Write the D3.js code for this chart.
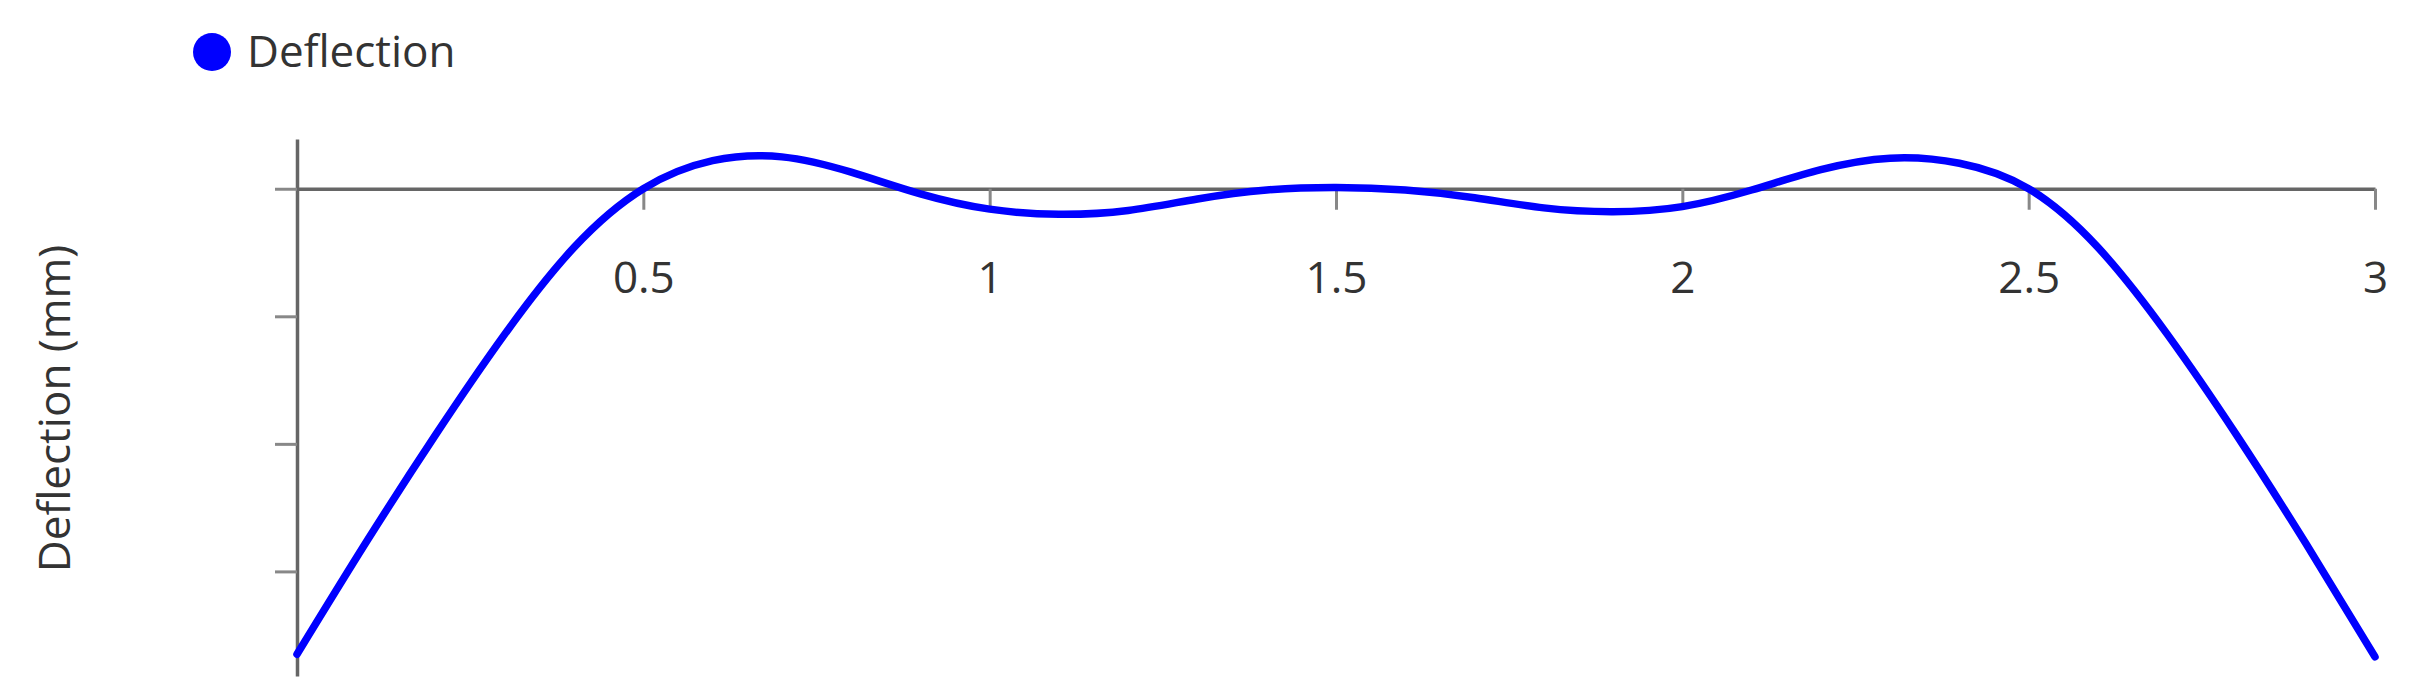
<!DOCTYPE html>
<html>
<head>
<meta charset="utf-8">
<script src="https://cdn.jsdelivr.net/npm/d3@7"></script>
<style>
  body { margin: 0; background: #fff; }
  svg { display: block; font-family: "Open Sans", sans-serif; }
  .axis .domain { stroke: #666; stroke-width: 3.5px; }
  .axis .tick line { stroke: #888; stroke-width: 3px; }
  .axis .tick text { fill: #333; font-size: 44px; font-family: "Open Sans", sans-serif; }
</style>
</head>
<body>
<script>
let width = 2418;
let height = 694;

// position along the beam (m)
let positions = [
  0, 0.1, 0.2, 0.3, 0.4, 0.5, 0.6, 0.7, 0.8, 0.9,
  1, 1.1, 1.2, 1.3, 1.4, 1.5, 1.6, 1.7, 1.8, 1.9,
  2, 2.1, 2.2, 2.3, 2.4, 2.5, 2.6, 2.7, 2.8, 2.9, 3
];

// deflection (mm)
let deflections = [
  -3.65, -2.77, -1.93, -1.14, -0.46, 0, 0.22, 0.25, 0.13, -0.04,
  -0.16, -0.20, -0.17, -0.08, -0.01, 0.01, -0.01, -0.07, -0.15, -0.18,
  -0.14, -0.01, 0.15, 0.24, 0.20, 0, -0.46, -1.14, -1.93, -2.78, -3.67
];

let xTicks = [0.5, 1, 1.5, 2, 2.5, 3];
let yTicks = [0, -1, -2, -3];
let xDomain = [0, 3];
let yDomain = [-3.82, 0.39];
let seriesName = "Deflection";
let yTitle = "Deflection (mm)";

let margin = { top: 139, right: 43, bottom: 18, left: 297 };

let svg = d3.select("body").append("svg")
    .attr("width", width)
    .attr("height", height);

let x = d3.scaleLinear()
    .domain(xDomain)
    .range([margin.left, width - margin.right]);

let y = d3.scaleLinear()
    .domain(yDomain)
    .range([height - margin.bottom, margin.top]);

let data = positions.map((p, i) => ({ x: p, y: deflections[i] }));

// y axis, ticks without labels
let yAxis = svg.append("g")
    .attr("class", "y axis")
    .attr("transform", `translate(${margin.left},0)`)
    .call(d3.axisLeft(y)
      .tickValues(yTicks)
      .tickSize(22)
      .tickSizeOuter(0)
      .tickFormat(""));

// x axis sits on the zero line
let xAxis = svg.append("g")
    .attr("class", "x axis")
    .attr("transform", `translate(0,${y(0)})`)
    .call(d3.axisBottom(x)
      .tickValues(xTicks)
      .tickSize(21)
      .tickSizeOuter(0)
      .tickPadding(52)
      .tickFormat(d3.format("")));

let line = d3.line()
    .x(d => x(d.x))
    .y(d => y(d.y))
    .curve(d3.curveNatural);

svg.append("path")
    .datum(data)
    .attr("fill", "none")
    .attr("stroke", "#0000ff")
    .attr("stroke-width", 7.5)
    .attr("stroke-linecap", "round")
    .attr("stroke-linejoin", "round")
    .attr("d", line);

// axis title
svg.append("text")
    .attr("transform", `translate(70,${(y.range()[0] + y.range()[1]) / 2 + 1}) rotate(-90)`)
    .attr("text-anchor", "middle")
    .style("font-size", "44px")
    .style("fill", "#333")
    .text(yTitle);

// legend
let legend = svg.append("g")
    .attr("transform", "translate(212,52)");

legend.append("circle")
    .attr("r", 19)
    .attr("fill", "#0000ff");

legend.append("text")
    .attr("x", 35)
    .attr("dy", "0.35em")
    .style("font-size", "44px")
    .style("fill", "#333")
    .text(seriesName);
</script>
</body>
</html>
